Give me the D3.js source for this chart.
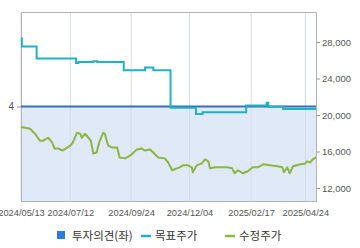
<!DOCTYPE html>
<html>
<head>
<meta charset="utf-8">
<script src="https://cdn.jsdelivr.net/npm/d3@7"></script>
<style>
  body { margin: 0; background: #fff; }
  text { font-family: "Liberation Sans", "Noto Sans CJK KR", sans-serif; }
  .legend text { font-family: "Noto Sans CJK KR", sans-serif; }
</style>
</head>
<body>
<div id="chart"></div>
<script>
// investment opinion (left axis)
const opinionDates = ["2024-05-13", "2025-05-07"];
const opinionValues = [4, 4];

// target price, step-after
const targetDates = ["2024-05-13", "2024-05-14", "2024-06-01", "2024-07-19", "2024-07-22", "2024-08-09", "2024-08-14",
  "2024-09-15", "2024-10-11", "2024-10-21", "2024-11-11", "2024-12-12", "2024-12-20", "2025-02-11",
  "2025-03-08", "2025-03-10", "2025-03-28", "2025-05-07"];
const targetValues = [28400, 27500, 26200, 25700, 25800, 25900, 25800,
  24900, 25200, 24900, 20800, 20100, 20300, 21050,
  21350, 20900, 20650, 20650];

// adjusted price
const priceDates = ["2024-05-13", "2024-05-24", "2024-05-30", "2024-06-05", "2024-06-09", "2024-06-15", "2024-06-20",
  "2024-06-23", "2024-06-27", "2024-07-03", "2024-07-08", "2024-07-12", "2024-07-15", "2024-07-20", "2024-07-24",
  "2024-07-26", "2024-07-30", "2024-08-03", "2024-08-06", "2024-08-09", "2024-08-13", "2024-08-16", "2024-08-21",
  "2024-08-23", "2024-08-27", "2024-09-01", "2024-09-07", "2024-09-10", "2024-09-17", "2024-09-23", "2024-10-01",
  "2024-10-07", "2024-10-11", "2024-10-17", "2024-10-21", "2024-10-27", "2024-11-04", "2024-11-08", "2024-11-13",
  "2024-11-16", "2024-11-22", "2024-11-26", "2024-12-02", "2024-12-07", "2024-12-08", "2024-12-13", "2024-12-19",
  "2024-12-23", "2024-12-27", "2024-12-29", "2025-01-04", "2025-01-13", "2025-01-19", "2025-01-25", "2025-01-28",
  "2025-02-01", "2025-02-07", "2025-02-13", "2025-02-19", "2025-02-25", "2025-03-04", "2025-03-12", "2025-03-21",
  "2025-03-27", "2025-03-29", "2025-04-02", "2025-04-05", "2025-04-09", "2025-04-18", "2025-04-24", "2025-04-26",
  "2025-04-30", "2025-05-03", "2025-05-07"];
const priceValues = [18700, 18490, 17950, 17190, 17190, 17510, 16970,
  16330, 16330, 16110, 16430, 16650, 16970, 18050, 17950,
  17510, 17950, 17510, 17190, 15790, 15890, 16970, 18050,
  17950, 16650, 16430, 16430, 15350, 15250, 15570, 16220,
  16330, 16110, 16220, 15890, 15350, 15250, 14810, 13950,
  14060, 14270, 14490, 14490, 14270, 13730, 14490, 14700,
  15140, 14920, 14160, 14270, 14270, 14270, 14160, 13620,
  13950, 13620, 13840, 14270, 14270, 14600, 14490, 14380,
  14270, 13730, 14270, 13620, 14380, 14600, 14700, 14920,
  14810, 15140, 15350];

const xTicks = ["2024-05-13", "2024-07-12", "2024-09-24", "2024-12-04", "2025-02-17", "2025-04-24"];
const rightTicks = [12000, 16000, 20000, 24000, 28000];
const leftTicks = [4];

const legendItems = [
  { label: "투자의견(좌)", type: "square", color: "#2b7de0" },
  { label: "목표주가", type: "line", color: "#1db3c4" },
  { label: "수정주가", type: "line", color: "#8db542" }
];

const width = 360, height = 248;
const margin = { top: 12, right: 44, bottom: 47, left: 21 };
const parse = d3.timeParse("%Y-%m-%d");
const fmtDate = d3.timeFormat("%Y/%m/%d");

const svg = d3.select("#chart").append("svg")
  .attr("width", width).attr("height", height);

const x = d3.scaleTime()
  .domain([parse("2024-05-13"), parse("2025-05-07")])
  .range([margin.left, width - margin.right]);
const yR = d3.scaleLinear()
  .domain([10580, 31290])
  .range([height - margin.bottom, margin.top]);
const yL = d3.scaleLinear()
  .domain([0, 8])
  .range([height - margin.bottom, margin.top]);

const toPts = (dates, vals) => dates.map((d, i) => ({ date: parse(d), v: vals[i] }));
const opinion = toPts(opinionDates, opinionValues);
const target = toPts(targetDates, targetValues);
const price = toPts(priceDates, priceValues);

// opinion area
svg.append("path")
  .datum(opinion)
  .attr("d", d3.area().x(d => x(d.date)).y0(yL(0)).y1(d => yL(d.v)))
  .style("fill", "#dfe9f8");

// vertical grid
svg.append("g")
  .selectAll("line")
  .data(xTicks.map(parse))
  .enter().append("line")
  .attr("x1", d => x(d)).attr("x2", d => x(d))
  .attr("y1", margin.top).attr("y2", height - margin.bottom)
  .style("stroke", "#d5dce6").style("stroke-width", 1);

// frame
const x0 = margin.left, x1 = width - margin.right;
const yTop = margin.top, yBot = height - margin.bottom;
svg.append("path")
  .attr("d", `M${x0 + 0.5},${yBot}V${yTop + 0.5}H${x1 + 0.5}V${yBot}`)
  .style("fill", "none").style("stroke", "#b4b4b4");
svg.append("line")
  .attr("x1", x0).attr("x2", x1 + 1)
  .attr("y1", yBot + 0.5).attr("y2", yBot + 0.5)
  .style("stroke", "#b4b4b4");

// opinion line
svg.append("path")
  .datum(opinion)
  .attr("d", d3.line().x(d => x(d.date)).y(d => yL(d.v)))
  .style("fill", "none").style("stroke", "#3a6fb6").style("stroke-width", 2);

// target price
svg.append("path")
  .datum(target)
  .attr("d", d3.line().x(d => x(d.date)).y(d => yR(d.v)).curve(d3.curveStepAfter))
  .style("fill", "none").style("stroke", "#1db3c4").style("stroke-width", 2);

// price
svg.append("path")
  .datum(price)
  .attr("d", d3.line().x(d => x(d.date)).y(d => yR(d.v)))
  .style("fill", "none").style("stroke", "#8db542").style("stroke-width", 2)
  .style("stroke-linejoin", "round");

// right axis
const rAxis = svg.append("g")
  .attr("transform", `translate(${x1},0)`)
  .call(d3.axisRight(yR).tickValues(rightTicks).tickFormat(d3.format(",")).tickSize(4).tickPadding(2));
rAxis.select(".domain").remove();
rAxis.selectAll("line").style("stroke", "#999");
rAxis.selectAll("text").style("fill", "#555").style("font-size", "9.5px");

// left axis
const lAxis = svg.append("g")
  .attr("transform", `translate(${x0},0)`)
  .call(d3.axisLeft(yL).tickValues(leftTicks).tickSize(4).tickPadding(3));
lAxis.select(".domain").remove();
lAxis.selectAll("line").style("stroke", "#999");
lAxis.selectAll("text").style("fill", "#555").style("font-size", "10px");

// bottom axis
const bAxis = svg.append("g")
  .attr("transform", `translate(0,${yBot})`)
  .call(d3.axisBottom(x).tickValues(xTicks.map(parse)).tickFormat(fmtDate).tickSize(0).tickPadding(8));
bAxis.select(".domain").remove();
bAxis.selectAll("text").style("fill", "#555").style("font-size", "9.3px");

// legend
const legend = svg.append("g").attr("class", "legend");
const legendX = [57, 141, 225];
const items = legend.selectAll("g")
  .data(legendItems).enter()
  .append("g")
  .attr("transform", (d, i) => `translate(${legendX[i]},235)`);
items.filter(d => d.type === "square")
  .append("rect")
  .attr("x", 0).attr("y", -4).attr("width", 8).attr("height", 8)
  .style("fill", d => d.color);
items.filter(d => d.type === "line")
  .append("line")
  .attr("x1", 0).attr("x2", 10).attr("y1", 1).attr("y2", 1)
  .style("stroke", d => d.color).style("stroke-width", 2.5);
items.append("text")
  .attr("x", (d) => d.type === "square" ? 15 : 14)
  .attr("y", 5)
  .style("font-size", "11.5px")
  .style("fill", "#333")
  .text(d => d.label);
</script>
</body>
</html>
